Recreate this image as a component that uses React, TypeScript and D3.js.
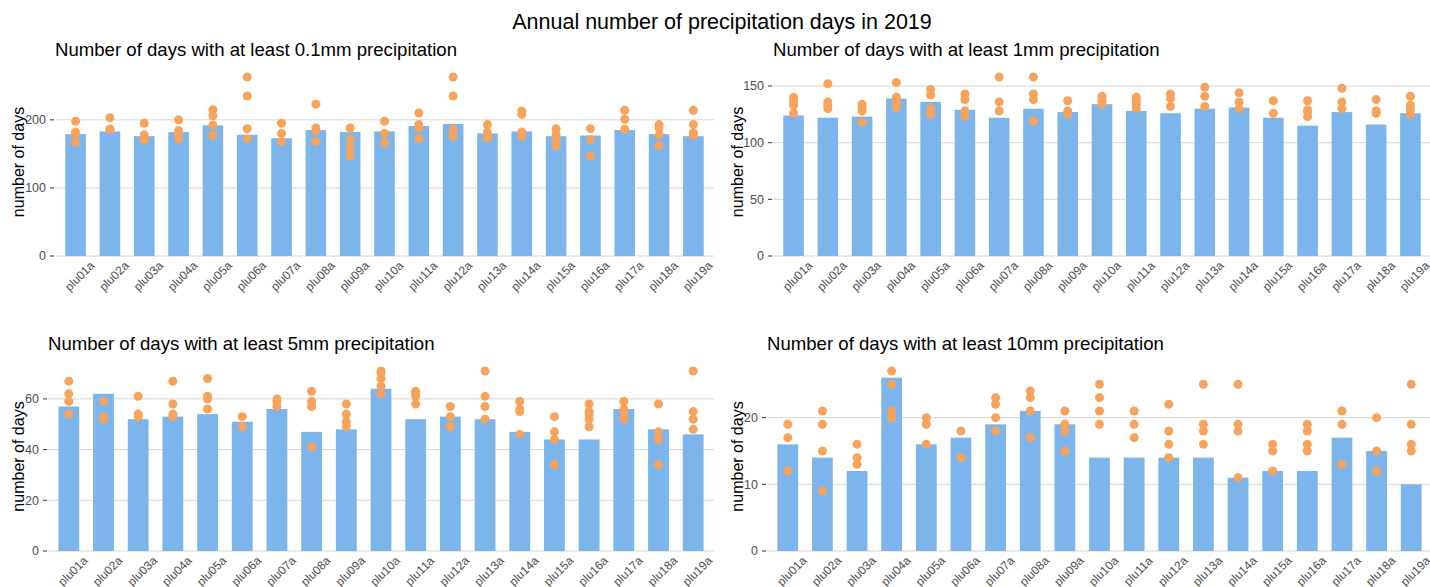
import React from "react";
import * as d3 from "d3";

const stations = ["plu01a","plu02a","plu03a","plu04a","plu05a","plu06a","plu07a","plu08a","plu09a","plu10a","plu11a","plu12a","plu13a","plu14a","plu15a","plu16a","plu17a","plu18a","plu19a"];

const bars01 = [179,183,176,182,192,178,173,185,182,183,191,194,180,183,176,177,185,179,176];
const dots01 = [[198,182,179,167],[203,186,186],[195,178,174,170],[200,184,179,172],[215,206,192,177],[263,235,187,172],[195,180,168],[223,188,184,168],[188,171,159,147],[198,180,166],[210,193,188,172],[263,235,186,176],[193,182,178,173],[213,208,182,176],[187,179,170,162],[187,171,147],[214,201,186],[193,188,178,162],[214,193,181,177]];

const bars1 = [124,122,123,139,136,129,122,130,127,134,128,126,130,131,122,115,127,116,126];
const dots1 = [[140,137,133,126],[152,136,133,130],[134,131,128,118],[153,140,135,131],[147,142,130,125],[143,138,128,123],[158,136,128],[158,143,138,119],[137,128,125],[141,137,134],[140,137,134,130],[143,139,132],[149,141,132],[144,136,130],[137,126],[137,129,127,123],[148,136,130],[138,128,126],[141,133,129,125]];

const bars5 = [57,62,52,53,54,51,56,47,48,64,52,53,52,47,44,44,56,48,46];
const dots5 = [[67,62,59,54],[59,53,52],[61,54,53],[67,58,54,53],[68,61,60,56],[53,49],[60,59,57],[63,59,57,41],[58,54,51,49],[71,70,68,65,62],[63,62,61,58],[57,53,49],[71,61,57,52],[59,56,55,46],[53,47,44,34],[58,55,54,52,49],[59,56,55,52],[58,47,44,34],[71,55,52,48]];

const bars10 = [16,14,12,26,16,17,19,21,19,14,14,14,14,11,12,12,17,15,10];
const dots10 = [[19,17,12],[21,19,15,9],[16,14,13],[27,25,21,20],[20,19,16],[18,14],[23,22,20,18],[24,23,21,17],[21,19,18,15],[25,23,21,19],[21,19,17],[22,18,16,14],[25,19,18,16],[25,19,18,11],[16,15,12],[19,18,16,15],[21,19,13],[20,15,12],[25,19,16,15]];

const mainTitle = "Annual number of precipitation days in 2019";
const panelTitles = [
  "Number of days with at least 0.1mm precipitation",
  "Number of days with at least 1mm precipitation",
  "Number of days with at least 5mm precipitation",
  "Number of days with at least 10mm precipitation",
];
const yTicks = [[0,100,200],[0,50,100,150],[0,20,40,60],[0,10,20]];
const yLabel = "number of days";

const BAR = "#7cb5ec";
const DOT = "#f7a35c";
const FONT = "'Liberation Sans', Arial, Helvetica, sans-serif";

type PanelProps = { x0: number; x1: number; y0: number; y1: number; labX: number; title: string; bars: number[]; dots: number[][]; ticks: number[] };

function Panel({ x0, x1, y0, y1, labX, title, bars, dots, ticks }: PanelProps) {
  const x = d3.scaleBand<string>().domain(stations).range([x0, x1]).paddingInner(0.4).paddingOuter(0.3);
  const maxV = d3.max(dots.flat().concat(bars)) as number;
  const y = d3.scaleLinear().domain([0, maxV * 1.05]).range([y1, y0]);
  const bw = x.bandwidth();
  return (
    <g>
      <text x={x0} y={y0 - 12} fontSize={18.6} fill="#000" fontFamily={FONT}>{title}</text>
      {ticks.map((t) => (
        <g key={t}>
          <line x1={x0} x2={x1} y1={y(t)} y2={y(t)} stroke="#d6d6d6" strokeWidth={1} />
          <line x1={x0 - 5} x2={x0 - 1} y1={y(t)} y2={y(t)} stroke="#333" strokeWidth={1} />
          <text x={x0 - 9} y={y(t)} dy="0.35em" textAnchor="end" fontSize={12.5} fill="#4d4d4d" fontFamily={FONT}>{t}</text>
        </g>
      ))}
      <text transform={`translate(${labX},${(y0 + y1) / 2}) rotate(-90)`} textAnchor="middle" dy="0.35em" fontSize={16} fill="#000" fontFamily={FONT}>{yLabel}</text>
      {stations.map((s, i) => (
        <rect key={s} x={x(s)} y={y(bars[i])} width={bw} height={y(0) - y(bars[i])} fill={BAR} />
      ))}
      {stations.map((s, i) =>
        dots[i].map((v, j) => (
          <circle key={s + j} cx={(x(s) as number) + bw / 2} cy={y(v)} r={4.5} fill={DOT} />
        ))
      )}
      {stations.map((s) => (
        <text key={s} transform={`translate(${(x(s) as number) + bw / 2 + 4},${y1 + 20}) rotate(-45)`} textAnchor="middle" dy="0.35em" fontSize={12} fill="#4d4d4d" fontFamily={FONT}>{s}</text>
      ))}
    </g>
  );
}

export default function App() {
  return (
    <svg width={1430} height={587} style={{ position: "absolute", left: 0, top: 0, background: "#fff" }}>
      <rect width={1430} height={587} fill="#fff" />
      <text x={722} y={29} textAnchor="middle" fontSize={21.5} fill="#000" fontFamily={FONT}>{mainTitle}</text>
      <Panel x0={55} x1={714} y0={68} y1={256} labX={18} title={panelTitles[0]} bars={bars01} dots={dots01} ticks={yTicks[0]} />
      <Panel x0={773} x1={1431} y0={68} y1={256} labX={737} title={panelTitles[1]} bars={bars1} dots={dots1} ticks={yTicks[1]} />
      <Panel x0={48} x1={714} y0={362} y1={551} labX={18} title={panelTitles[2]} bars={bars5} dots={dots5} ticks={yTicks[2]} />
      <Panel x0={767} x1={1432} y0={362} y1={551} labX={737} title={panelTitles[3]} bars={bars10} dots={dots10} ticks={yTicks[3]} />
    </svg>
  );
}
